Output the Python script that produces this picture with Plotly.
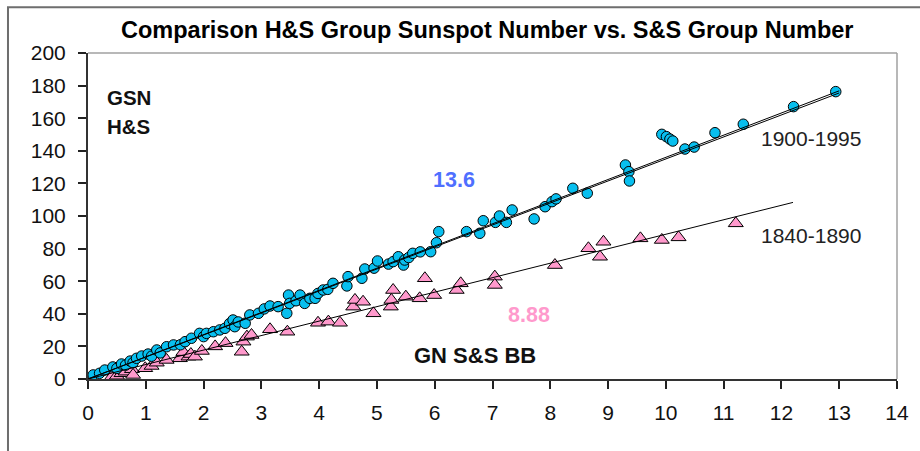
import plotly.graph_objects as go

# ---- data ----
gsn_x = [0.09, 0.20, 0.29, 0.43, 0.50, 0.58, 0.65, 0.73, 0.78, 0.84, 0.93, 1.04, 1.10, 1.19, 1.25,
         1.36, 1.48, 1.60, 1.68, 1.79, 1.93, 2.00, 2.05, 2.17, 2.28, 2.37, 2.45, 2.51, 2.54, 2.60,
         2.72, 2.80, 2.95, 3.05, 3.15, 3.29, 3.44, 3.47, 3.49, 3.60, 3.67, 3.75, 3.84, 3.93, 3.98,
         4.07, 4.15, 4.24, 4.48, 4.50, 4.74, 4.79, 4.95, 5.01, 5.20, 5.28, 5.37, 5.46, 5.48, 5.55,
         5.62, 5.75, 5.93, 6.03, 6.07, 6.55, 6.78, 6.84, 7.05, 7.12, 7.24, 7.34, 7.72, 7.91, 8.03,
         8.10, 8.39, 8.64, 9.30, 9.36, 9.37, 9.93, 10.01, 10.07, 10.12, 10.33, 10.49, 10.85, 11.34,
         12.21, 12.94]
gsn_y = [2.5, 3.5, 5.5, 7.4, 6.5, 9.2, 8.5, 11.0, 10.0, 12.7, 14.1, 15.3, 14.0, 17.8, 16.0,
         19.8, 20.9, 21.0, 22.9, 25.0, 28.0, 26.0, 28.0, 29.0, 30.1, 31.1, 34.0, 36.2, 32.1, 35.0,
         34.2, 39.3, 40.3, 43.0, 44.8, 44.4, 40.3, 51.5, 46.4, 48.0, 51.5, 46.4, 49.5, 49.5, 52.5,
         54.6, 55.0, 58.7, 57.1, 62.8, 61.8, 67.5, 68.0, 72.4, 70.5, 72.0, 75.0, 69.9, 73.0, 74.5,
         77.1, 78.0, 78.1, 83.6, 90.4, 90.4, 89.4, 97.1, 96.1, 100.0, 96.1, 103.7, 98.2, 105.7, 108.8,
         110.5, 117.0, 114.0, 131.3, 127.2, 121.5, 150.1, 148.7, 147.2, 146.0, 141.1, 142.3, 151.1, 156.3,
         167.1, 176.3]

gn_x = [0.41, 0.50, 0.58, 0.65, 0.76, 0.78, 0.99, 1.10, 1.19, 1.36, 1.59, 1.65, 1.74, 1.78, 1.85,
        1.97, 2.20, 2.38, 2.66, 2.69, 2.75, 2.83, 3.15, 3.45, 3.98, 4.16, 4.36, 4.59, 4.62, 4.76,
        4.94, 5.24, 5.25, 5.28, 5.50, 5.74, 5.83, 5.99, 6.38, 6.45, 7.04, 7.04, 8.08, 8.66, 8.86,
        8.92, 9.56, 9.93, 10.22, 11.21]
gn_y = [1.4, 2.0, 3.5, 4.5, 6.0, 2.5, 6.6, 8.0, 10.0, 11.7, 12.7, 16.5, 13.7, 15.3, 13.7,
        17.2, 20.0, 22.0, 16.7, 22.9, 26.0, 27.0, 30.5, 29.0, 34.5, 35.2, 34.5, 44.4, 48.5, 47.4,
        40.3, 44.4, 48.5, 54.6, 50.5, 49.5, 61.8, 51.5, 54.6, 58.7, 62.8, 57.7, 69.9, 80.2, 75.0,
        84.2, 86.3, 85.3, 86.9, 95.5]

# trend lines (slopes shown on the chart)
gsn_fit_x = [0, 13.0]
gsn_slope = 13.6
gsn_fit2_slope = 13.5
gn_fit_x = [0, 12.2]
gn_slope = 8.88

x_ticks = list(range(0, 15))
y_ticks = list(range(0, 201, 20))

FONT = "Liberation Sans, Arial, sans-serif"
BLUE = "#08BFEF"
PINK = "#FF99CC"

fig = go.Figure()

fig.add_trace(go.Scatter(
    x=gn_x, y=gn_y, mode="markers",
    marker=dict(symbol="triangle-up", size=13, color=PINK, line=dict(color="#000000", width=1)),
    showlegend=False, hoverinfo="x+y"))
fig.add_trace(go.Scatter(
    x=gsn_x, y=gsn_y, mode="markers",
    marker=dict(symbol="circle", size=10.5, color=BLUE, line=dict(color="#000000", width=1)),
    showlegend=False, hoverinfo="x+y"))

fig.add_trace(go.Scatter(
    x=gsn_fit_x, y=[gsn_slope * v for v in gsn_fit_x], mode="lines",
    line=dict(color="#000000", width=1), showlegend=False, hoverinfo="skip"))
fig.add_trace(go.Scatter(
    x=gsn_fit_x, y=[gsn_fit2_slope * v for v in gsn_fit_x], mode="lines",
    line=dict(color="#000000", width=1), showlegend=False, hoverinfo="skip"))
fig.add_trace(go.Scatter(
    x=gn_fit_x, y=[gn_slope * v for v in gn_fit_x], mode="lines",
    line=dict(color="#000000", width=1), showlegend=False, hoverinfo="skip"))

axis_common = dict(
    showgrid=False, zeroline=False, showline=True, linecolor="#333333", linewidth=2,
    ticks="outside", ticklen=8, tickwidth=1.5, tickcolor="#222222", automargin=False,
    tickfont=dict(family=FONT, size=21, color="#111111"),
)
fig.update_xaxes(range=[0, 14], tickvals=x_ticks, ticktext=[str(v) for v in x_ticks],
                 ticklabelstandoff=6, **axis_common)
fig.update_yaxes(range=[0, 200], tickvals=y_ticks, ticktext=[str(v) for v in y_ticks],
                 ticklabelstandoff=8, **axis_common)

annos = [
    dict(text="<b>Comparison H&S Group Sunspot Number vs. S&S Group Number</b>",
         xref="paper", yref="paper", x=0.493, y=1.0706, xanchor="center", yanchor="middle",
         font=dict(family=FONT, size=23.5, color="#000000")),
    dict(text="<b>GSN</b>", x=0.30, y=173.0, xanchor="left", yanchor="middle",
         font=dict(family=FONT, size=20.5, color="#111111")),
    dict(text="<b>H&S</b>", x=0.30, y=155.0, xanchor="left", yanchor="middle",
         font=dict(family=FONT, size=20.5, color="#111111")),
    dict(text="<b>13.6</b>", x=6.33, y=122.1, xanchor="center", yanchor="middle",
         font=dict(family=FONT, size=21.5, color="#4F6FFF")),
    dict(text="<b>8.88</b>", x=7.64, y=39.3, xanchor="center", yanchor="middle",
         font=dict(family=FONT, size=21.5, color=PINK)),
    dict(text="<b>GN S&S BB</b>", x=6.70, y=14.7, xanchor="center", yanchor="middle",
         font=dict(family=FONT, size=22, color="#111111")),
    dict(text="1900-1995", x=12.51, y=147.7, xanchor="center", yanchor="middle",
         font=dict(family=FONT, size=21, color="#222222")),
    dict(text="1840-1890", x=12.51, y=88.3, xanchor="center", yanchor="middle",
         font=dict(family=FONT, size=21, color="#222222")),
]
for a in annos:
    a.setdefault("xref", "x")
    a.setdefault("yref", "y")
    a["showarrow"] = False
fig.update_layout(annotations=annos)

fig.update_layout(
    width=920, height=451,
    margin=dict(l=88, r=23, t=53, b=72, pad=0, autoexpand=False),
    paper_bgcolor="#FFFFFF", plot_bgcolor="#FFFFFF",
    shapes=[
        # outer chart frame (extends past the right/bottom of the picture)
        dict(type="rect", xref="paper", yref="paper", x0=-0.0989, x1=1.5, y0=-0.6, y1=1.14,
             line=dict(color="#6E6E6E", width=2), layer="above"),
        # plot-area top and right border
        dict(type="line", xref="paper", yref="paper", x0=0, x1=1, y0=1, y1=1,
             line=dict(color="#A0A0A0", width=1.5)),
        dict(type="line", xref="paper", yref="paper", x0=1, x1=1, y0=0, y1=1,
             line=dict(color="#A0A0A0", width=1.5)),
    ],
)

fig.write_html("out.html", config={"displayModeBar": False},
               post_script="document.body.style.margin='0';document.body.style.overflow='hidden';")
